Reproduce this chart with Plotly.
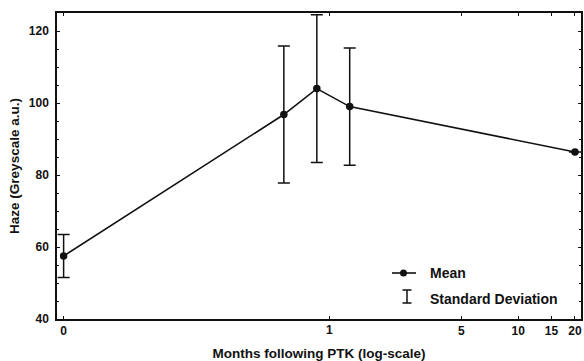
import math
import plotly.graph_objects as go

# Data (months after PTK; baseline "0" drawn at a small offset on the log axis)
months = [0.039, 0.573, 0.857, 1.28, 20]
haze_mean = [57.5, 96.8, 104.0, 99.0, 86.4]
haze_sd = [6.0, 19.0, 20.5, 16.3, None]

tick_vals = [0.039, 1, 5, 10, 15, 20]
tick_text = ["0", "1", "5", "10", "15", "20"]

FONT = "Liberation Sans, Arial, sans-serif"
INK = "#111111"

fig = go.Figure()
fig.add_trace(go.Scatter(
    x=months, y=haze_mean, mode="lines+markers",
    line=dict(color=INK, width=1.6),
    marker=dict(color=INK, size=7.5),
    error_y=dict(type="data", array=haze_sd, visible=True,
                 color=INK, thickness=1.5, width=6),
    showlegend=False, hoverinfo="skip",
))

# Manual legend (paper coordinates; page pixel -> plot-area fraction)
def px(xp):
    return (xp - 57) / 524.0

def py(yp):
    return (319 - yp) / 306.0

shapes = [
    dict(type="line", xref="paper", yref="paper", x0=px(392), x1=px(416),
         y0=py(273), y1=py(273), line=dict(color=INK, width=1.6)),
    dict(type="circle", xref="paper", yref="paper", x0=px(400), x1=px(407),
         y0=py(276.5), y1=py(269.5), fillcolor=INK, line=dict(color=INK, width=0)),
    dict(type="line", xref="paper", yref="paper", x0=px(407), x1=px(407),
         y0=py(290), y1=py(303), line=dict(color=INK, width=1.5)),
    dict(type="line", xref="paper", yref="paper", x0=px(402.5), x1=px(411.5),
         y0=py(290), y1=py(290), line=dict(color=INK, width=1.5)),
    dict(type="line", xref="paper", yref="paper", x0=px(402.5), x1=px(411.5),
         y0=py(303), y1=py(303), line=dict(color=INK, width=1.5)),
]
LEG_FONT = dict(family=FONT, size=14, color=INK, weight="bold")
TICK_FONT = dict(family=FONT, size=12, color=INK, weight="bold")
TITLE_FONT = dict(family=FONT, size=13.5, color=INK, weight="bold")

annotations = [
    dict(text="Mean", xref="paper", yref="paper", x=px(428), y=py(273),
         xanchor="left", yanchor="middle", showarrow=False, font=LEG_FONT),
    dict(text="Standard Deviation", xref="paper", yref="paper", x=px(428), y=py(299),
         xanchor="left", yanchor="middle", showarrow=False, font=LEG_FONT),
]

# Tick labels: the "1" label is placed as an annotation on the x (log) axis,
# because plotly drops that array tick label here.
axis_text = list(tick_text)
one_idx = tick_text.index("1")
axis_text[one_idx] = ""
annotations.append(dict(
    text=tick_text[one_idx], xref="x", yref="paper",
    x=math.log10(tick_vals[one_idx]), y=py(330),
    xanchor="center", yanchor="middle", showarrow=False, font=TICK_FONT,
))

fig.update_layout(
    width=584, height=361,
    margin=dict(l=57, r=3, t=13, b=42),
    paper_bgcolor="white", plot_bgcolor="white",
    font=dict(family=FONT, size=12, color=INK),
    shapes=shapes, annotations=annotations,
    hovermode=False,
    xaxis=dict(
        type="log", range=[-1.444, 1.333], automargin=False,
        tickmode="array", tickvals=tick_vals, ticktext=axis_text,
        ticklabeloverflow="allow",
        ticks="inside", ticklen=3, tickcolor=INK,
        showline=True, linecolor=INK, linewidth=1.5, mirror="ticks",
        showgrid=False, zeroline=False,
        tickfont=TICK_FONT,
        title=dict(text="Months following PTK (log-scale)", standoff=12,
                   font=TITLE_FONT),
    ),
    yaxis=dict(
        range=[40, 125], tickvals=[40, 60, 80, 100, 120], automargin=False,
        ticks="inside", ticklen=3, tickcolor=INK,
        showline=True, linecolor=INK, linewidth=1.5, mirror="ticks",
        showgrid=False, zeroline=False,
        minor=dict(ticks="inside", ticklen=2, tickwidth=1, tickcolor=INK,
                   dtick=5, showgrid=False),
        tickfont=TICK_FONT,
        ticklabelstandoff=4,
        title=dict(text="Haze (Greyscale a.u.)", standoff=6, font=TITLE_FONT),
    ),
)

# Remove the page's default body margin / scrollbars so the figure fills the window.
fig.write_html(
    "out.html",
    config={"displayModeBar": False},
    post_script="document.body.style.margin='0';document.body.style.overflow='hidden';",
)
